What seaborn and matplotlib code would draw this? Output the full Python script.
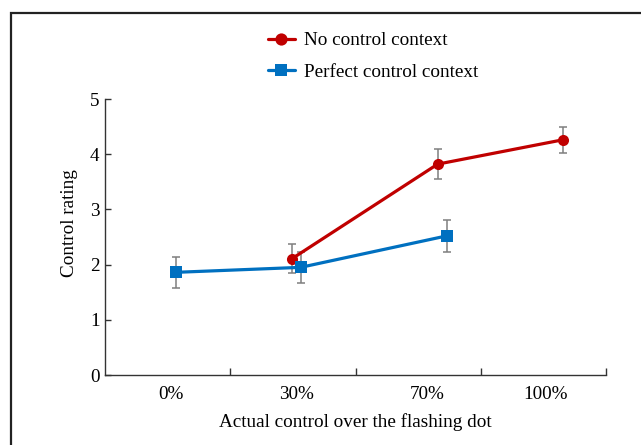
import numpy as np
import pandas as pd
import matplotlib
matplotlib.use("Agg")
import matplotlib.pyplot as plt
import matplotlib.patches as mpatches
from matplotlib.ticker import FixedLocator, NullFormatter
import seaborn as sns

# ---- data ----
categories = ["0%", "30%", "70%", "100%"]
conditions = ["No control context", "Perfect control context"]

no_control_pos = [0.995, 2.156, 3.154]
no_control_mean = [2.11, 3.82, 4.26]
no_control_err = [0.26, 0.27, 0.24]

perfect_pos = [0.067, 1.062, 2.228]
perfect_mean = [1.86, 1.95, 2.52]
perfect_err = [0.28, 0.28, 0.29]

y_ticks = [0, 1, 2, 3, 4, 5]

df = pd.DataFrame({
    "pos": no_control_pos + perfect_pos,
    "rating": no_control_mean + perfect_mean,
    "err": no_control_err + perfect_err,
    "condition": [conditions[0]] * len(no_control_pos) + [conditions[1]] * len(perfect_pos),
})

sns.set_theme(style="ticks")
plt.rcParams["font.family"] = ["Liberation Serif", "DejaVu Serif"]
plt.rcParams["text.color"] = "black"
plt.rcParams["axes.labelcolor"] = "black"
plt.rcParams["xtick.color"] = "black"
plt.rcParams["ytick.color"] = "black"

colors = {conditions[0]: "#C00000", conditions[1]: "#0070C0"}
FS = 13.8

fig = plt.figure(figsize=(6.41, 4.45), dpi=100)
ax = fig.add_axes([105 / 641, 1 - 375 / 445, (606 - 105) / 641, (375 - 99) / 445])

for cond in conditions:
    sub = df[df["condition"] == cond]
    ax.errorbar(sub["pos"], sub["rating"], yerr=sub["err"], fmt="none",
                ecolor="#7f7f7f", elinewidth=1.1, capsize=3, capthick=1.1, zorder=2)

sns.lineplot(data=df, x="pos", y="rating", hue="condition", style="condition",
             hue_order=conditions, style_order=conditions,
             palette=colors, markers={conditions[0]: "o", conditions[1]: "s"},
             dashes=False, linewidth=2.3, markersize=8, markeredgewidth=0,
             ax=ax, zorder=3, legend=True)

ax.set_xlim(-0.5, 3.5)
ax.set_ylim(0, 5)
ax.set_yticks(y_ticks)
ax.set_yticklabels([str(t) for t in y_ticks])
ax.xaxis.set_major_locator(FixedLocator([0.5, 1.5, 2.5, 3.5]))
ax.xaxis.set_major_formatter(NullFormatter())
label_nudge = [0.03, 0.025, 0.07, 0.02]
ax.set_xticks([i + d for i, d in enumerate(label_nudge)], minor=True)
ax.set_xticklabels(categories, minor=True)
ax.tick_params(axis="x", which="minor", length=0, pad=8, labelsize=FS, labelcolor="black")
ax.tick_params(axis="x", which="major", direction="in", length=5, width=1, color="#333333")
ax.tick_params(axis="y", direction="in", length=4, width=1, pad=4, labelsize=FS,
               color="#333333", labelcolor="black")

for s in ["top", "right"]:
    ax.spines[s].set_visible(False)
for s in ["left", "bottom"]:
    ax.spines[s].set_linewidth(1.0)
    ax.spines[s].set_color("#333333")

ax.set_xlabel("Actual control over the flashing dot", fontsize=FS, labelpad=7, color="black")
ax.set_ylabel("Control rating", fontsize=FS, color="black")
ax.yaxis.set_label_coords(-0.054, 0.549)

handles, labels = ax.get_legend_handles_labels()
ax.get_legend().remove()
fig.legend(handles, labels, loc="upper left", bbox_to_anchor=(268 / 641, 1 - 32 / 445),
           frameon=False, fontsize=FS, handlelength=1.4, handletextpad=0.47,
           labelspacing=0.72, borderpad=0, borderaxespad=0, labelcolor="black",
           markerscale=1.1)

rect = mpatches.Rectangle((11 / 641, -0.2), 2, 1 - 13 / 445 + 0.2,
                          transform=fig.transFigure, fill=False,
                          edgecolor="#222222", linewidth=1.6, clip_on=False)
fig.patches.append(rect)

fig.savefig("out.png", dpi=100)
